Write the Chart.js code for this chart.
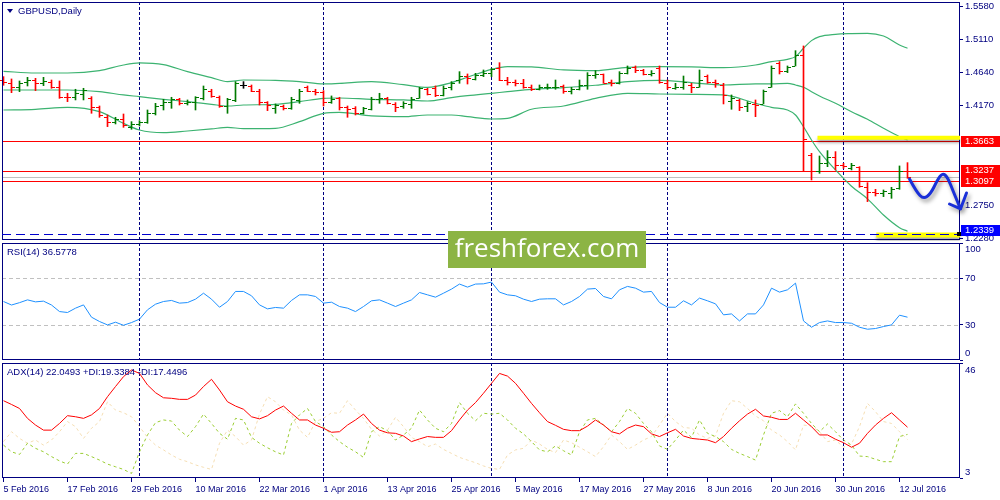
<!DOCTYPE html>
<html>
<head>
<meta charset="utf-8">
<title>GBPUSD Daily</title>
<script src="https://cdn.jsdelivr.net/npm/chart.js@4.4.1/dist/chart.umd.min.js"></script>
<style>
  html, body { margin: 0; padding: 0; background: #fff; }
  #wrap { position: relative; width: 1000px; height: 500px; overflow: hidden; }
  #wrap canvas { position: absolute; left: 0; }
  #mainChart { top: 0; }
  #rsiChart  { top: 242px; }
  #adxChart  { top: 362px; }
  #mark {
    position: absolute; left: 448px; top: 231px; width: 198px; height: 37px;
    background: #8cb444; color: #fff; font: 26px 'Open Sans', sans-serif;
    line-height: 32px; text-align: center; z-index: 5;
  }
</style>
</head>
<body>
<div id="wrap">
  <canvas id="mainChart" width="1000" height="241"></canvas>
  <canvas id="rsiChart" width="1000" height="120"></canvas>
  <canvas id="adxChart" width="1000" height="138"></canvas>
  <div id="mark">freshforex.com</div>
</div>
<script>
const COLORS = {
  up:      '#007a00',
  down:    '#ff0000',
  doji:    '#000000',
  band:    '#3cb371',
  level:   '#ff0000',
  bid:     '#c0c0c0',
  target:  '#0000cd',
  marker:  '#ffff00',
  arrow:   '#1a30d8',
  rsi:     '#1e90ff',
  rsiLvl:  '#c0c0c0',
  adx:     '#ff0000',
  plusDi:  '#9acd32',
  minusDi: '#f5deb3',
  frame:   '#000080',
  text:    '#000080'
};
const FONT = "'Liberation Sans', Arial, sans-serif";
Chart.defaults.font.family = FONT;
Chart.defaults.font.size   = 9.5;
Chart.defaults.color       = COLORS.text;

// ── Data ──────────────────────────────────────────────────
const dateLabels = ['5 Feb 2016','17 Feb 2016','29 Feb 2016','10 Mar 2016','22 Mar 2016',
  '1 Apr 2016','13 Apr 2016','25 Apr 2016','5 May 2016','17 May 2016','27 May 2016',
  '8 Jun 2016','20 Jun 2016','30 Jun 2016','12 Jul 2016'];
const dateIdx       = [0,8,16,24,32,40,48,56,64,72,80,88,96,104,112];
const monthStartIdx = [17,40,61,83,105];

const openP = [
1.4533,1.4496,1.4429,1.4505,1.4533,1.4486,1.4510,1.4429,1.4296,1.4287,
1.4334,1.4272,1.4154,1.4011,1.3940,1.3978,1.3869,1.3907,1.3940,1.4059,
1.4177,1.4225,1.4258,1.4211,1.4225,1.4272,1.4382,1.4296,1.4163,1.4249,
1.4462,1.4448,1.4382,1.4225,1.4130,1.4163,1.4130,1.4249,1.4429,1.4382,
1.4367,1.4225,1.4272,1.4144,1.4130,1.4059,1.4116,1.4258,1.4272,1.4192,
1.4163,1.4192,1.4272,1.4401,1.4415,1.4320,1.4429,1.4533,1.4590,1.4543,
1.4605,1.4628,1.4700,1.4533,1.4510,1.4496,1.4429,1.4401,1.4429,1.4429,
1.4448,1.4382,1.4401,1.4462,1.4605,1.4619,1.4510,1.4496,1.4638,1.4714,
1.4676,1.4619,1.4700,1.4496,1.4415,1.4429,1.4462,1.4429,1.4590,1.4510,
1.4462,1.4239,1.4249,1.4163,1.4192,1.4192,1.4429,1.4780,1.4667,1.4733,
1.4890,1.3465,1.3242,1.3346,1.3441,1.3323,1.3275,1.3290,1.3014,1.2943,
1.2919,1.2929,1.2990,1.3242];
const highP = [
1.4581,1.4548,1.4519,1.4571,1.4557,1.4571,1.4533,1.4519,1.4344,1.4401,
1.4415,1.4296,1.4163,1.4035,1.4002,1.4049,1.3940,1.3954,1.4106,1.4201,
1.4258,1.4287,1.4272,1.4249,1.4296,1.4448,1.4401,1.4306,1.4272,1.4510,
1.4510,1.4462,1.4401,1.4225,1.4192,1.4177,1.4287,1.4401,1.4448,1.4401,
1.4382,1.4306,1.4287,1.4163,1.4154,1.4144,1.4287,1.4344,1.4287,1.4211,
1.4225,1.4287,1.4429,1.4415,1.4448,1.4448,1.4510,1.4652,1.4619,1.4628,
1.4676,1.4700,1.4780,1.4571,1.4533,1.4543,1.4462,1.4462,1.4476,1.4533,
1.4462,1.4429,1.4533,1.4638,1.4667,1.4619,1.4533,1.4652,1.4733,1.4733,
1.4685,1.4667,1.4733,1.4533,1.4486,1.4590,1.4486,1.4676,1.4605,1.4533,
1.4486,1.4320,1.4258,1.4225,1.4249,1.4391,1.4733,1.4795,1.4733,1.4951,
1.5018,1.3489,1.3451,1.3527,1.3513,1.3346,1.3346,1.3299,1.3071,1.2976,
1.2967,1.3005,1.3309,1.3356];
const lowP = [
1.4458,1.4353,1.4367,1.4448,1.4382,1.4453,1.4415,1.4272,1.4225,1.4249,
1.4249,1.4059,1.4002,1.3869,1.3907,1.3859,1.3831,1.3878,1.3916,1.4035,
1.4106,1.4130,1.4177,1.4177,1.4106,1.4249,1.4287,1.4144,1.4059,1.4225,
1.4415,1.4367,1.4177,1.4097,1.4059,1.4106,1.4116,1.4201,1.4367,1.4320,
1.4163,1.4201,1.4106,1.4002,1.4035,1.4049,1.4106,1.4201,1.4192,1.4082,
1.4130,1.4130,1.4272,1.4320,1.4296,1.4306,1.4391,1.4486,1.4476,1.4533,
1.4581,1.4581,1.4524,1.4462,1.4448,1.4415,1.4382,1.4391,1.4401,1.4401,
1.4344,1.4334,1.4391,1.4401,1.4557,1.4486,1.4448,1.4476,1.4619,1.4638,
1.4605,1.4590,1.4486,1.4401,1.4401,1.4401,1.4353,1.4429,1.4486,1.4429,
1.4192,1.4116,1.4097,1.4082,1.4011,1.4192,1.4429,1.4619,1.4638,1.4733,
1.3228,1.3109,1.3204,1.3299,1.3252,1.3275,1.3252,1.3005,1.2801,1.2881,
1.2872,1.2848,1.2976,1.3133];
const closeP = [
1.4505,1.4429,1.4486,1.4533,1.4486,1.4515,1.4429,1.4296,1.4287,1.4344,
1.4391,1.4154,1.4035,1.3940,1.3973,1.3888,1.3907,1.3935,1.4059,1.4163,
1.4225,1.4258,1.4211,1.4225,1.4287,1.4401,1.4306,1.4163,1.4258,1.4486,
1.4462,1.4382,1.4225,1.4177,1.4177,1.4130,1.4258,1.4382,1.4382,1.4367,
1.4225,1.4258,1.4154,1.4116,1.4059,1.4130,1.4258,1.4272,1.4211,1.4154,
1.4201,1.4258,1.4415,1.4334,1.4320,1.4415,1.4486,1.4590,1.4557,1.4605,
1.4638,1.4685,1.4533,1.4510,1.4496,1.4429,1.4401,1.4429,1.4439,1.4439,
1.4382,1.4401,1.4462,1.4605,1.4619,1.4496,1.4496,1.4638,1.4700,1.4676,
1.4619,1.4638,1.4510,1.4429,1.4429,1.4510,1.4429,1.4533,1.4510,1.4496,
1.4320,1.4272,1.4154,1.4201,1.4177,1.4382,1.4700,1.4667,1.4714,1.4890,
1.3688,1.3242,1.3346,1.3441,1.3323,1.3309,1.3323,1.3024,1.2943,1.2919,
1.2957,1.2976,1.3242,1.3147];

// Bollinger bands (20,2) at these bar indices
const bbIdx    = [0,4,8,12,15,17,20,23,26,28,30,34,37,40,42,46,50,53,56,58,61,63,66,70,74,78,82,86,90,94,96,98,99,100,101,102,104,106,108,110,112,113];
const bbUpper  = [1.4657,1.4633,1.4633,1.4666,1.4747,1.4776,1.4752,1.4652,1.4567,1.4510,1.4533,1.4529,1.4510,1.4477,1.4486,1.4510,1.4467,1.4429,1.4496,1.4572,1.4685,1.4723,1.4719,1.4676,1.4666,1.4714,1.4723,1.4719,1.4709,1.4747,1.4795,1.4828,1.4866,1.4985,1.5094,1.5151,1.5184,1.5194,1.5198,1.5160,1.5032,1.4985];
const bbMiddle = [1.4391,1.4391,1.4391,1.4367,1.4320,1.4296,1.4258,1.4225,1.4187,1.4163,1.4177,1.4187,1.4225,1.4272,1.4277,1.4258,1.4249,1.4234,1.4282,1.4310,1.4344,1.4367,1.4401,1.4424,1.4458,1.4510,1.4529,1.4496,1.4462,1.4477,1.4477,1.4486,1.4462,1.4429,1.4367,1.4306,1.4201,1.4082,1.3973,1.3845,1.3726,1.3679];
const bbLower  = [1.4106,1.4116,1.4144,1.4082,1.3916,1.3821,1.3783,1.3807,1.3836,1.3859,1.3840,1.3845,1.3940,1.4059,1.4073,1.4021,1.4011,1.4035,1.4035,1.4011,1.3978,1.3987,1.4116,1.4163,1.4272,1.4344,1.4334,1.4329,1.4320,1.4201,1.4144,1.4106,1.4035,1.3868,1.3679,1.3513,1.3252,1.3020,1.2840,1.2610,1.2430,1.2380];

const priceTicks   = [1.5580, 1.5110, 1.4640, 1.4170, 1.2750, 1.2280];
const resistLevels = [1.3663, 1.3237, 1.3097];
const targetLevel  = 1.2339;
const boxLevels    = [1.3663, 1.3237, 1.3097, 1.2339];
const boxFills     = ['#ff0000', '#ff0000', '#ff0000', '#0000ff'];

// yellow marker strokes and the hand-drawn forecast arrow (bar index / price)
const markerFromIdx = [101.75, 109.1];
const markerPrice   = [1.3711, 1.2326];
const markerWidth   = [4, 5];
const arrowIdx      = [113.25, 114.125, 115.0, 115.875, 116.75, 117.375, 118.0, 118.75, 119.625];
const arrowPrice    = [1.3123, 1.2938, 1.2838, 1.2909, 1.3109, 1.3209, 1.3152, 1.2938, 1.2696];
const arrowHeadIdx  = [118.25, 120.375];
const arrowHeadP    = [1.2767, 1.2924];

const rsiVals = [
50,47,49,51.4,49.7,50.3,47,41.4,40.6,44.3,
47.1,36.6,32.9,30,32.3,29.7,32,34.9,42.9,47.7,
50,50.9,48.6,49.1,52,57.1,52,45.1,50,58.6,
58.6,54.9,47.1,43.7,44.9,44.3,50.9,55.7,55.7,54.3,
48.6,49.4,45.7,44.3,41.4,45.7,50.6,51.4,48.6,45.7,
48.6,51.4,57.7,55.7,53.7,57.1,60.6,64.9,62.3,64.9,
65.1,66.6,58,55.7,54.9,52,50,52,52.3,52.3,
47.1,50,54.3,60.6,61.1,54.3,52.3,60,62.9,61.4,
58,58.6,49.1,45.1,45.1,50.6,47.1,52.9,50.6,48,
38.6,39.4,33.4,39.4,39.4,47.1,61.4,58,60,65.7,
33.4,28,32,33.4,32,32,31.4,28,26.3,26.9,
28.6,30,38.3,36.6];
const rsiLevels = [70, 30];
const rsiTicks  = [100, 70, 30, 0];

const adxVals = [
31.9,30.5,29.0,25.3,22.8,20.9,20.9,23.4,26.3,25.9,
25.3,26.6,29.0,33.4,37.2,40.9,43.4,42.1,37.8,34.9,
33.0,32.8,32.4,32.4,34.0,37.2,39.9,35.9,31.5,29.9,
28.7,25.9,25.1,26.3,28.4,29.9,27.2,24.7,24.7,22.8,
21.6,20.1,20.3,22.8,24.7,26.9,23.4,20.9,19.9,19.7,
18.7,16.6,17.6,18.5,18.2,18.2,20.7,24.7,28.4,31.2,
34.7,38.4,42.1,41.1,38.4,34.7,30.9,27.4,24.1,22.7,
21.2,20.7,20.7,22.4,24.7,22.8,20.3,19.5,21.6,22.8,
22.2,19.5,18.5,19.9,21.2,18.7,17.8,17.5,17.2,16.2,
18.5,21.6,24.4,26.9,28.7,26.2,25.7,24.9,24.9,27.2,
24.7,22.2,19.1,19.1,17.5,16.2,14.5,16.0,19.7,22.8,
25.3,27.4,24.7,22.0];
const plusDi = [
15.3,12.8,11.8,16.0,14.1,12.8,11.0,9.4,8.2,12.2,
12.2,11.0,9.7,8.2,7.2,6.2,4.7,12.8,19.1,23.7,
24.7,24.3,20.9,18.5,22.2,26.9,23.4,19.7,17.5,25.3,
24.7,18.2,16.0,14.3,12.8,11.6,23.4,26.6,29.0,24.1,
22.2,19.1,16.6,14.5,12.8,10.7,20.3,22.2,20.7,17.2,
19.1,21.6,28.4,24.7,21.6,20.3,23.4,31.2,27.2,24.4,
27.2,26.9,27.2,24.7,21.6,19.5,16.6,13.5,12.8,15.0,
13.2,11.6,20.3,24.7,25.3,22.8,20.3,24.1,29.0,27.2,
23.4,20.3,15.0,13.7,17.2,20.9,18.2,24.7,19.7,18.5,
16.6,13.7,12.2,11.0,9.7,19.1,27.2,28.2,25.9,30.7,
27.2,23.4,20.3,23.2,20.3,17.2,15.3,11.2,11.0,10.0,
9.1,9.1,18.5,19.3];
const minusDi = [
16.6,20.3,17.8,16.0,17.2,15.3,17.2,20.3,24.1,22.2,
17.8,21.6,24.1,31.5,28.4,27.4,25.9,22.2,18.2,15.3,
13.5,11.6,10.0,9.1,7.9,7.0,6.2,16.0,20.9,18.5,
15.3,17.2,26.9,33.4,31.5,28.4,26.6,20.9,18.2,24.1,
25.3,27.4,27.2,31.9,28.4,25.3,21.2,18.7,20.9,25.7,
22.2,18.2,16.6,14.7,15.7,13.7,12.2,10.7,9.7,8.7,
7.5,6.6,6.2,11.6,13.5,14.1,17.2,15.7,13.7,12.5,
17.2,16.2,14.5,12.8,11.0,14.7,19.1,16.6,13.7,15.3,
17.2,18.5,22.8,27.2,24.1,21.9,21.6,19.1,17.8,18.7,
27.2,31.9,31.5,29.0,26.2,24.4,20.9,19.1,16.6,13.5,
22.8,22.4,20.3,16.6,17.2,14.5,15.7,22.2,30.9,27.8,
24.1,23.4,20.3,17.4];
const adxTicks = [46, 3];

// visible ranges of each pane (bar centres land on half pixels)
const X_MIN = -0.1875, X_MAX = 119.5625;
const P_MIN = 1.22543, P_MAX = 1.56441;

// ── helpers ───────────────────────────────────────────────
const barColor = i => closeP[i] > openP[i] ? COLORS.up : (closeP[i] < openP[i] ? COLORS.down : COLORS.doji);
const pts = arr => arr.map((v, i) => ({ x: i, y: v }));
const crisp = v => Math.round(v) + 0.5;
const noPad = s => { s.paddingTop = 0; s.paddingBottom = 0; s.paddingLeft = 0; s.paddingRight = 0; };

function xAxis(show) {
  return {
    type: 'linear', min: X_MIN, max: X_MAX, offset: false, display: show,
    grid:   { drawOnChartArea: false, tickLength: 4, color: COLORS.frame, offset: false },
    border: { display: false },
    afterBuildTicks: s => { s.ticks = dateIdx.map(v => ({ value: v })); },
    afterFit: s => { noPad(s); if (show) s.height = 22; },
    ticks: {
      autoSkip: false, maxRotation: 0, align: 'start', padding: 2,
      font: { size: 9 }, color: COLORS.text,
      callback: (v, i) => dateLabels[i]
    }
  };
}

function yAxis(min, max, ticks, label) {
  return {
    position: 'right', min, max, beginAtZero: false,
    grid:   { drawOnChartArea: false, tickLength: 3, color: COLORS.frame },
    border: { display: false },
    afterBuildTicks: s => { s.ticks = ticks.map(v => ({ value: v })); },
    afterFit: s => { noPad(s); s.width = 40; },
    ticks: { padding: 2, color: COLORS.text, callback: label }
  };
}

// frame, month separators and pane caption
function panePlugin(o) {
  return {
    id: 'pane_' + o.name,
    beforeDatasetsDraw(chart) {
      const { ctx, chartArea: a, scales: { x } } = chart;
      ctx.save();
      ctx.strokeStyle = COLORS.frame;
      ctx.lineWidth = 1;
      ctx.setLineDash([3, 2]);
      monthStartIdx.forEach(i => {
        const px = Math.floor(x.getPixelForValue(i)) + 0.5;
        ctx.beginPath(); ctx.moveTo(px, a.top); ctx.lineTo(px, a.bottom); ctx.stroke();
      });
      ctx.restore();
      if (o.before) o.before(chart);
    },
    afterDatasetsDraw(chart) { if (o.after) o.after(chart); },
    afterDraw(chart) {
      const { ctx, chartArea: a } = chart;
      ctx.save();
      ctx.strokeStyle = COLORS.frame;
      ctx.lineWidth = 1;
      ctx.strokeRect(a.left + 0.5, a.top + 0.5, a.right - a.left - 1, a.bottom - a.top - 1);
      ctx.fillStyle = COLORS.text;
      ctx.font = '9.5px ' + FONT;
      ctx.textBaseline = 'middle';
      ctx.fillText(o.title, a.left + o.titleX, a.top + 9);
      ctx.restore();
      if (o.last) o.last(chart);
    }
  };
}

// subpane edge labels sit inside the pane, as the terminal draws them
function edgeLabels(chart, items) {
  const { ctx, chartArea: a } = chart;
  ctx.save();
  ctx.fillStyle = COLORS.text;
  ctx.font = '9.5px ' + FONT;
  ctx.textBaseline = 'middle';
  items.forEach(([txt, py]) => ctx.fillText(txt, a.right + 5, py));
  ctx.restore();
}

// ── Main price pane ───────────────────────────────────────
const band = arr => ({
  type: 'line',
  data: bbIdx.map((x, k) => ({ x, y: arr[k] })),
  borderColor: COLORS.band, borderWidth: 1.2, pointRadius: 0,
  cubicInterpolationMode: 'monotone', fill: false, order: 1
});

new Chart(document.getElementById('mainChart'), {
  type: 'bar',
  data: {
    datasets: [
      {
        type: 'bar',
        data: openP.map((_, i) => ({ x: i, y: [lowP[i], highP[i]] })),
        backgroundColor: openP.map((_, i) => barColor(i)),
        barThickness: 1, borderWidth: 0, order: 0
      },
      band(bbUpper), band(bbMiddle), band(bbLower)
    ]
  },
  options: {
    responsive: false, animation: false, events: [],
    layout: { padding: { left: 2, right: 0, top: 2, bottom: 1 } },
    plugins: { legend: { display: false }, tooltip: { enabled: false } },
    scales: { x: xAxis(false), y: yAxis(P_MIN, P_MAX, priceTicks, v => v.toFixed(4)) }
  },
  plugins: [panePlugin({
    name: 'main', title: 'GBPUSD,Daily', titleX: 16,
    before(chart) {
      const { ctx, chartArea: a, scales: { y } } = chart;
      ctx.save();
      ctx.lineWidth = 1;
      ctx.strokeStyle = COLORS.bid;
      let py = crisp(y.getPixelForValue(closeP[closeP.length - 1]));
      ctx.beginPath(); ctx.moveTo(a.left, py); ctx.lineTo(a.right, py); ctx.stroke();
      ctx.strokeStyle = COLORS.level;
      resistLevels.forEach(v => {
        py = crisp(y.getPixelForValue(v));
        ctx.beginPath(); ctx.moveTo(a.left, py); ctx.lineTo(a.right, py); ctx.stroke();
      });
      ctx.restore();
    },
    after(chart) {
      // open / close ticks of each bar
      const { ctx, scales: { x, y } } = chart;
      ctx.save();
      ctx.lineWidth = 1;
      for (let i = 0; i < openP.length; i++) {
        const px = x.getPixelForValue(i);
        const yo = crisp(y.getPixelForValue(openP[i]));
        const yc = crisp(y.getPixelForValue(closeP[i]));
        ctx.strokeStyle = barColor(i);
        ctx.beginPath();
        ctx.moveTo(px - 3.5, yo); ctx.lineTo(px - 0.5, yo);
        ctx.moveTo(px + 0.5, yc); ctx.lineTo(px + 3.5, yc);
        ctx.stroke();
      }
      ctx.restore();
    },
    last(chart) {
      const { ctx, chartArea: a, scales: { x, y } } = chart;
      ctx.save();
      // yellow marker strokes
      ctx.shadowColor = 'rgba(0,0,0,0.35)';
      ctx.shadowBlur = 3;
      ctx.shadowOffsetY = 3;
      ctx.strokeStyle = COLORS.marker;
      markerFromIdx.forEach((xi, k) => {
        const py = y.getPixelForValue(markerPrice[k]);
        ctx.lineWidth = markerWidth[k];
        ctx.beginPath(); ctx.moveTo(x.getPixelForValue(xi), py); ctx.lineTo(a.right, py); ctx.stroke();
      });
      ctx.shadowColor = 'transparent';
      // target level
      const ty = crisp(y.getPixelForValue(targetLevel));
      ctx.strokeStyle = COLORS.target;
      ctx.lineWidth = 1;
      ctx.setLineDash([9, 5]);
      ctx.beginPath(); ctx.moveTo(a.left, ty); ctx.lineTo(a.right, ty); ctx.stroke();
      ctx.setLineDash([]);
      ctx.fillStyle = '#000';
      ctx.fillRect(a.right - 3, ty - 2.5, 4, 4);
      // forecast arrow
      const p = arrowIdx.map((xi, k) => [x.getPixelForValue(xi), y.getPixelForValue(arrowPrice[k])]);
      ctx.shadowColor = 'rgba(0,0,0,0.4)';
      ctx.shadowBlur = 4;
      ctx.shadowOffsetX = 2;
      ctx.shadowOffsetY = 3;
      ctx.strokeStyle = COLORS.arrow;
      ctx.lineWidth = 3;
      ctx.lineCap = 'round';
      ctx.lineJoin = 'round';
      ctx.beginPath();
      ctx.moveTo(p[0][0], p[0][1]);
      for (let k = 1; k < p.length - 1; k++) {
        ctx.quadraticCurveTo(p[k][0], p[k][1], (p[k][0] + p[k + 1][0]) / 2, (p[k][1] + p[k + 1][1]) / 2);
      }
      const tip = p[p.length - 1];
      ctx.lineTo(tip[0], tip[1]);
      arrowHeadIdx.forEach((xi, k) => {
        ctx.moveTo(x.getPixelForValue(xi), y.getPixelForValue(arrowHeadP[k]));
        ctx.lineTo(tip[0], tip[1]);
      });
      ctx.stroke();
      ctx.restore();

      // caption triangle
      ctx.save();
      ctx.fillStyle = COLORS.text;
      ctx.beginPath();
      ctx.moveTo(a.left + 5, a.top + 7); ctx.lineTo(a.left + 11, a.top + 7); ctx.lineTo(a.left + 8, a.top + 11);
      ctx.closePath(); ctx.fill();
      // price boxes on the axis, pushed apart where they would overlap
      const H = 11;
      const boxes = boxLevels
        .map((v, k) => ({ v, fill: boxFills[k], c: y.getPixelForValue(v) }))
        .sort((p1, p2) => p1.c - p2.c);
      for (let k = 1; k < boxes.length; k++) {
        if (boxes[k].c - boxes[k - 1].c < H) {
          const mid = (boxes[k].c + boxes[k - 1].c) / 2;
          boxes[k - 1].c = mid - H / 2;
          boxes[k].c = mid + H / 2;
        }
      }
      ctx.font = '9.5px ' + FONT;
      ctx.textBaseline = 'middle';
      boxes.forEach(b => {
        const c = Math.min(b.c, a.bottom - 4 - H / 2);
        const top = Math.round(c - H / 2);
        ctx.fillStyle = b.fill;
        ctx.fillRect(a.right + 1, top, 39, H);
        ctx.fillStyle = '#ffffff';
        ctx.fillText(b.v.toFixed(4), a.right + 5, top + H / 2);
      });
      ctx.restore();
    }
  })]
});

// ── RSI pane ──────────────────────────────────────────────
new Chart(document.getElementById('rsiChart'), {
  type: 'line',
  data: {
    datasets: [{ data: pts(rsiVals), borderColor: COLORS.rsi, borderWidth: 1, pointRadius: 0 }]
  },
  options: {
    responsive: false, animation: false, events: [],
    layout: { padding: { left: 2, right: 0, top: 1, bottom: 2 } },
    plugins: { legend: { display: false }, tooltip: { enabled: false } },
    scales: {
      x: xAxis(false),
      y: yAxis(0, 100, rsiTicks, v => (rsiLevels.includes(v) ? String(v) : ''))
    }
  },
  plugins: [panePlugin({
    name: 'rsi', title: 'RSI(14) 36.5778', titleX: 5,
    before(chart) {
      const { ctx, chartArea: a, scales: { y } } = chart;
      ctx.save();
      ctx.strokeStyle = COLORS.rsiLvl;
      ctx.lineWidth = 1;
      ctx.setLineDash([4, 3]);
      rsiLevels.forEach(v => {
        const py = crisp(y.getPixelForValue(v));
        ctx.beginPath(); ctx.moveTo(a.left, py); ctx.lineTo(a.right, py); ctx.stroke();
      });
      ctx.restore();
    },
    last(chart) {
      const { chartArea: a } = chart;
      edgeLabels(chart, [[String(rsiTicks[0]), a.top + 6.5], [String(rsiTicks[3]), a.bottom - 6.5]]);
    }
  })]
});

// ── ADX pane ──────────────────────────────────────────────
new Chart(document.getElementById('adxChart'), {
  type: 'line',
  data: {
    datasets: [
      { data: pts(adxVals), borderColor: COLORS.adx,     borderWidth: 1, pointRadius: 0 },
      { data: pts(plusDi),  borderColor: COLORS.plusDi,  borderWidth: 1, pointRadius: 0, borderDash: [3, 3] },
      { data: pts(minusDi), borderColor: COLORS.minusDi, borderWidth: 1, pointRadius: 0, borderDash: [3, 3] }
    ]
  },
  options: {
    responsive: false, animation: false, events: [],
    layout: { padding: { left: 2, right: 0, top: 1, bottom: 0 } },
    plugins: { legend: { display: false }, tooltip: { enabled: false } },
    scales: {
      x: xAxis(true),
      y: yAxis(3, 46, adxTicks, () => '')
    }
  },
  plugins: [panePlugin({
    name: 'adx', title: 'ADX(14) 22.0493 +DI:19.3384 -DI:17.4496', titleX: 5,
    last(chart) {
      const { chartArea: a } = chart;
      edgeLabels(chart, [[String(adxTicks[0]), a.top + 7], [String(adxTicks[1]), a.bottom - 5.5]]);
    }
  })]
});
</script>
</body>
</html>
